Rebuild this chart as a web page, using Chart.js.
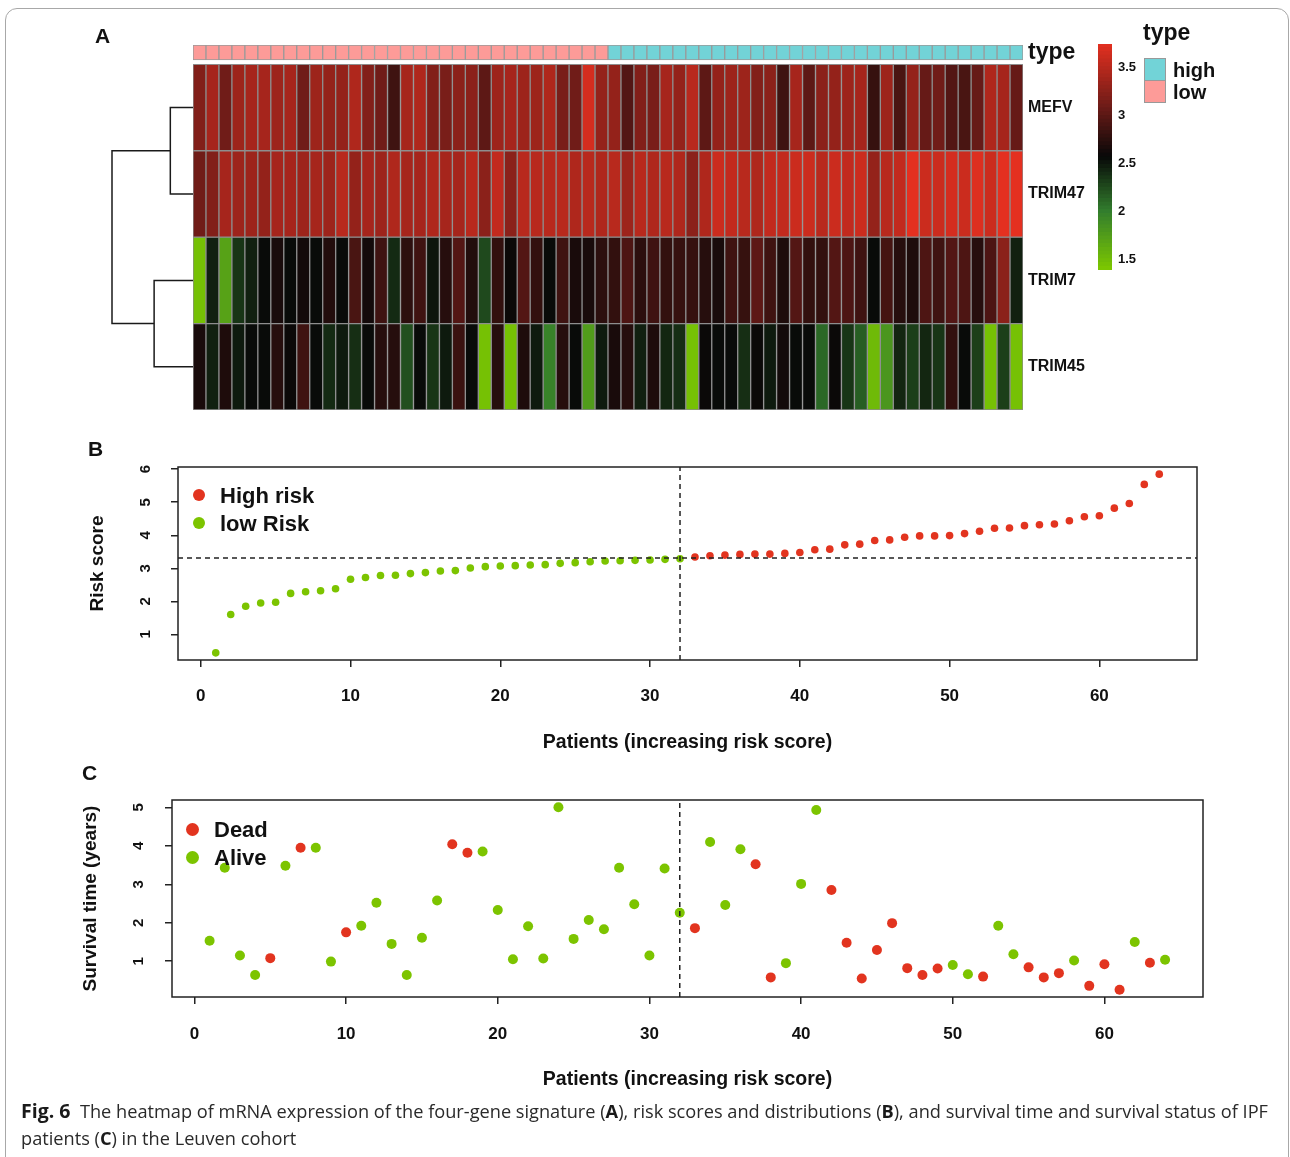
<!DOCTYPE html>
<html>
<head>
<meta charset="utf-8">
<script src="https://cdn.jsdelivr.net/npm/chart.js@4.4.1/dist/chart.umd.min.js"></script>
<style>
  body { margin: 0; width: 1290px; height: 1157px; overflow: hidden; background: #fff;
         font-family: "Liberation Sans", Arial, Helvetica, sans-serif; position: relative; }
  .frame { position: absolute; left: 5px; top: 8px; width: 1282px; height: 1190px;
           border: 1px solid #a8a8a8; border-radius: 12px; }
  canvas { position: absolute; left: 0; }
  .lbl { position: absolute; font-weight: bold; color: #111; line-height: 1; white-space: nowrap; }
  .dot { position: absolute; border-radius: 50%; }
  .box { position: absolute; width: 20px; height: 21px; border: 1px solid #999; }
  .caption { position: absolute; left: 21px; top: 1097px; width: 1262px; font-family: "Open Sans", sans-serif;
             font-size: 18.2px; line-height: 27px; color: #2a2a2a; }
  .caption b { font-weight: bold; color: #1a1a1a; }
  .caption .fig { font-size: 19.5px; }
</style>
</head>
<body>
<div class="frame"></div>

<canvas id="heatmap" width="1290" height="440" style="top:0"></canvas>
<canvas id="dendro" width="1290" height="440" style="top:0"></canvas>
<canvas id="colorKey" width="1290" height="440" style="top:0"></canvas>
<canvas id="riskChart" width="1290" height="340" style="top:430px"></canvas>
<canvas id="survChart" width="1290" height="340" style="top:760px"></canvas>

<div class="lbl" style="left:95px;top:25px;font-size:21px">A</div>
<div class="lbl" style="left:88px;top:438px;font-size:21px">B</div>
<div class="lbl" style="left:82px;top:762px;font-size:21px">C</div>

<!-- type legend -->
<div class="lbl" style="left:1143px;top:21px;font-size:23px">type</div>
<div class="box" style="left:1144px;top:58px;background:#72d3d7"></div>
<div class="box" style="left:1144px;top:80px;background:#fd9b98"></div>
<div class="lbl" style="left:1173px;top:60px;font-size:20px">high</div>
<div class="lbl" style="left:1173px;top:82px;font-size:20px">low</div>

<!-- legend B -->
<div class="dot" style="left:193px;top:489px;width:12px;height:12px;background:#e2341f"></div>
<div class="dot" style="left:193px;top:517px;width:12px;height:12px;background:#7cc400"></div>
<div class="lbl" style="left:220px;top:485px;font-size:22px">High risk</div>
<div class="lbl" style="left:220px;top:513px;font-size:22px">low Risk</div>

<!-- legend C -->
<div class="dot" style="left:186px;top:823px;width:13px;height:13px;background:#e2341f"></div>
<div class="dot" style="left:186px;top:851px;width:13px;height:13px;background:#7cc400"></div>
<div class="lbl" style="left:214px;top:819px;font-size:22px">Dead</div>
<div class="lbl" style="left:214px;top:847px;font-size:22px">Alive</div>

<div class="caption"><b class="fig">Fig. 6</b>&nbsp; The heatmap of mRNA expression of the four-gene signature (<b>A</b>), risk scores and distributions (<b>B</b>), and survival time and survival status of IPF<br>patients (<b>C</b>) in the Leuven cohort</div>

<script>
// ---- data ----
const genes = ["MEFV", "TRIM47", "TRIM7", "TRIM45"];

const mefv = [3.2, 3.4, 3.1, 3.35, 3.4, 3.4, 3.35, 3.4, 3.1, 3.35,
  3.3, 3.3, 3.45, 3.2, 3.1, 2.85, 3.4, 3.45, 3.2, 3.15,
  3.25, 3.25, 3.0, 3.35, 3.4, 3.35, 3.35, 3.45, 3.15, 3.1,
  3.65, 3.3,
  3.3, 2.95, 3.2, 3.15, 3.4, 3.3, 3.5, 3.0, 3.3, 3.35,
  3.35, 3.2, 3.25, 2.85, 3.4, 3.0, 3.25, 3.3, 3.35, 3.4,
  2.8, 3.35, 2.9, 3.3, 3.05, 3.1, 2.95, 2.9, 3.05, 3.45,
  3.4, 3.05];

const trim47 = [3.1, 3.2, 3.4, 3.35, 3.35, 3.3, 3.4, 3.4, 3.35, 3.4,
  3.35, 3.5, 3.3, 3.4, 3.35, 3.45, 3.4, 3.4, 3.45, 3.4,
  3.4, 3.5, 3.25, 3.55, 3.25, 3.5, 3.5, 3.5, 3.5, 3.45,
  3.5, 3.45,
  3.5, 3.35, 3.5, 3.45, 3.5, 3.45, 3.25, 3.45, 3.6, 3.55,
  3.5, 3.45, 3.55, 3.55, 3.6, 3.6, 3.5, 3.6, 3.55, 3.6,
  3.3, 3.5, 3.55, 3.75, 3.6, 3.6, 3.65, 3.6, 3.7, 3.6,
  3.75, 3.8];

const trim7 = [1.45, 2.45, 1.7, 2.35, 2.45, 2.55, 2.65, 2.55, 2.62, 2.55,
  2.7, 2.55, 2.9, 2.62, 2.85, 2.4, 2.75, 2.85, 2.5, 2.72,
  2.95, 2.7, 2.25, 2.78, 2.58, 2.95, 2.78, 2.55, 2.85, 2.65,
  2.65, 2.75,
  2.78, 2.92, 2.75, 2.85, 2.78, 2.8, 2.8, 2.72, 2.65, 2.85,
  2.8, 3.0, 2.85, 2.68, 2.95, 2.78, 2.78, 2.95, 2.92, 2.85,
  2.55, 2.88, 2.72, 2.68, 2.92, 2.85, 2.95, 2.92, 2.72, 2.92,
  3.25, 2.45];

const trim45 = [2.65, 2.45, 2.68, 2.48, 2.55, 2.55, 2.72, 2.58, 2.85, 2.55,
  2.4, 2.48, 2.38, 2.55, 2.72, 2.72, 2.22, 2.55, 2.35, 2.48,
  2.82, 2.55, 1.45, 2.72, 1.45, 2.68, 2.48, 1.95, 2.72, 2.55,
  1.75, 2.48,
  2.65, 2.72, 2.45, 2.68, 2.42, 2.38, 1.45, 2.58, 2.55, 2.55,
  2.38, 2.58, 2.48, 2.62, 2.55, 2.55, 2.1, 2.58, 2.35, 2.15,
  1.5, 1.8, 2.42, 2.3, 2.42, 2.35, 2.78, 2.55, 2.3, 1.45,
  2.3, 1.45];

const riskScore = [0.44, 1.60, 1.85, 1.95, 1.97, 2.24, 2.29, 2.32, 2.38, 2.67,
  2.72, 2.78, 2.79, 2.84, 2.87, 2.92, 2.93, 3.01, 3.05, 3.07,
  3.08, 3.10, 3.11, 3.15, 3.17, 3.20, 3.22, 3.23, 3.24, 3.25,
  3.27, 3.29,
  3.34, 3.38, 3.40, 3.42, 3.43, 3.43, 3.45, 3.48, 3.56, 3.58,
  3.71, 3.73, 3.84, 3.86, 3.94, 3.98, 3.98, 3.99, 4.05, 4.12,
  4.21, 4.22, 4.29, 4.32, 4.34, 4.44, 4.56, 4.59, 4.82, 4.96,
  5.54, 5.85];

const survTime = [1.53, 3.43, 1.15, 0.64, 1.08, 3.48, 3.95, 3.95, 0.99, 1.75,
  1.92, 2.52, 1.45, 0.64, 1.61, 2.58, 4.04, 3.82, 3.85, 2.33,
  1.05, 1.91, 1.07, 5.0, 1.58, 2.07, 1.83, 3.43, 2.48, 1.15,
  3.41, 2.26,
  1.86, 4.10, 2.46, 3.91, 3.52, 0.58, 0.95, 3.01, 4.93, 2.85,
  1.48, 0.55, 1.29, 1.99, 0.82, 0.64, 0.81, 0.90, 0.66, 0.60,
  1.92, 1.18, 0.84, 0.58, 0.69, 1.02, 0.36, 0.92, 0.26, 1.50,
  0.96, 1.04];

// 1 = dead, 0 = alive
const survStatus = [0, 0, 0, 0, 1, 0, 1, 0, 0, 1,
  0, 0, 0, 0, 0, 0, 1, 1, 0, 0,
  0, 0, 0, 0, 0, 0, 0, 0, 0, 0,
  0, 0, 1, 0, 0, 0, 1, 1, 0, 0,
  0, 1, 1, 1, 1, 1, 1, 1, 1, 0,
  0, 1, 0, 0, 1, 1, 1, 0, 1, 1,
  1, 0, 1, 0];

// dendrogram (R hclust style merge table)
const dendroMerge = [[-1, -2], [-3, -4], [1, 2]];
const dendroHeight = [0.28, 0.48, 1.0];

const patientTicks = [0, 10, 20, 30, 40, 50, 60];
const riskTicks = [1, 2, 3, 4, 5, 6];
const survTicks = [1, 2, 3, 4, 5];
const keyTicks = [1.5, 2, 2.5, 3, 3.5];

// ---- derived ----
const sorted = [...riskScore].sort((a, b) => a - b);
const riskMedian = (sorted[31] + sorted[32]) / 2;
const riskType = riskScore.map(v => (v > riskMedian ? "high" : "low"));
const nLow = riskType.filter(t => t === "low").length;
const patients = riskScore.map((v, i) => i + 1);

const RED = "#e2341f";
const GREEN = "#7cc400";
const FONT = "'Liberation Sans', Arial, Helvetica, sans-serif";

// expression colour ramp green - black - red
const keyMin = 1.39, keyMax = 3.74;
const rampStops = [
  [1.39, [125, 200, 0]],
  [2.0, [50, 125, 45]],
  [2.565, [8, 8, 8]],
  [3.1, [112, 28, 24]],
  [3.74, [228, 48, 32]]
];
function exprColor(v) {
  if (v <= rampStops[0][0]) return "rgb(" + rampStops[0][1].join(",") + ")";
  for (let i = 1; i < rampStops.length; i++) {
    if (v <= rampStops[i][0]) {
      const [v0, c0] = rampStops[i - 1], [v1, c1] = rampStops[i];
      const t = (v - v0) / (v1 - v0);
      return "rgb(" + c0.map((c, k) => Math.round(c + (c1[k] - c) * t)).join(",") + ")";
    }
  }
  return "rgb(" + rampStops[rampStops.length - 1][1].join(",") + ")";
}

Chart.defaults.font.family = FONT;
Chart.defaults.color = "#111";
Chart.defaults.animation = false;

// ---- heatmap ----
const geneRows = [mefv, trim47, trim7, trim45];
const heatTop = 4.224;
const heatSets = geneRows.map((vals, g) => ({
  label: genes[g],
  data: vals.map(() => [3 - g, 4 - g]),
  backgroundColor: vals.map(exprColor),
  borderColor: "#8e8e8e",
  borderWidth: 1,
  borderSkipped: false,
  barPercentage: 1,
  categoryPercentage: 1,
  grouped: false
}));
heatSets.push({
  label: "type",
  data: riskType.map(() => [4.05, heatTop]),
  backgroundColor: riskType.map(t => (t === "high" ? "#72d3d7" : "#fd9b98")),
  borderColor: "#9a9a9a",
  borderWidth: 1,
  borderSkipped: false,
  barPercentage: 1,
  categoryPercentage: 1,
  grouped: false
});

const rowLabels = [...genes, "type"];
new Chart(document.getElementById("heatmap"), {
  type: "bar",
  data: { labels: patients, datasets: heatSets },
  options: {
    responsive: false,
    layout: { padding: { left: 193, right: 187, top: 45, bottom: 30 } },
    plugins: { legend: { display: false }, tooltip: { enabled: false } },
    scales: {
      x: { display: false },
      y: {
        position: "right",
        min: 0,
        max: heatTop,
        grid: { display: false, drawTicks: false },
        border: { display: false },
        afterBuildTicks: s => { s.ticks = [3.5, 2.5, 1.5, 0.5, 4.137].map(v => ({ value: v })); },
        afterFit: s => { s.width = 80; },
        ticks: {
          padding: 5,
          color: "#111",
          font: c => (c.index === 4 ? { size: 23, weight: "bold" } : { size: 16, weight: "bold" }),
          callback: (v, i) => rowLabels[i]
        }
      }
    }
  }
});

// ---- dendrogram ----
const leafY = k => 4.5 - k;
const nodes = [];
function nodePos(id) {
  return id < 0 ? { y: leafY(-id), h: 0 } : nodes[id - 1];
}
const dendroSets = dendroMerge.map((m, j) => {
  const a = nodePos(m[0]), b = nodePos(m[1]);
  const h = dendroHeight[j];
  nodes.push({ y: (a.y + b.y) / 2, h: h });
  return {
    data: [{ x: a.h, y: a.y }, { x: h, y: a.y }, { x: h, y: b.y }, { x: b.h, y: b.y }],
    showLine: true,
    pointRadius: 0,
    borderColor: "#1a1a1a",
    borderWidth: 1.5,
    clip: false
  };
});
new Chart(document.getElementById("dendro"), {
  type: "scatter",
  data: { datasets: dendroSets },
  options: {
    responsive: false,
    layout: { padding: { left: 112, right: 1097, top: 45, bottom: 30 } },
    plugins: { legend: { display: false }, tooltip: { enabled: false } },
    scales: {
      x: { display: false, reverse: true, min: 0, max: 1 },
      y: { display: false, min: 0, max: heatTop }
    }
  }
});

// ---- colour key ----
const keyStep = (keyMax - keyMin) / 60;
const keySets = [];
for (let i = 0; i < 60; i++) {
  const lo = keyMin + i * keyStep;
  keySets.push({
    data: [[lo, lo + keyStep * 1.05]],
    backgroundColor: exprColor(lo + keyStep / 2),
    borderWidth: 0,
    barPercentage: 1,
    categoryPercentage: 1,
    grouped: false
  });
}
new Chart(document.getElementById("colorKey"), {
  type: "bar",
  data: { labels: ["key"], datasets: keySets },
  options: {
    responsive: false,
    layout: { padding: { left: 1098, right: 138, top: 44, bottom: 170 } },
    plugins: { legend: { display: false }, tooltip: { enabled: false } },
    scales: {
      x: { display: false },
      y: {
        position: "right",
        min: keyMin,
        max: keyMax,
        grid: { display: false, drawTicks: false },
        border: { display: false },
        afterBuildTicks: s => { s.ticks = keyTicks.map(v => ({ value: v })); },
        afterFit: s => { s.width = 40; },
        ticks: { padding: 6, font: { size: 13, weight: "bold" }, callback: v => String(v) }
      }
    }
  }
});

// ---- shared pieces for scatter panels ----
const boxPlugin = {
  id: "box",
  afterDraw(chart) {
    const a = chart.chartArea, c = chart.ctx;
    c.save();
    c.strokeStyle = "#222";
    c.lineWidth = 1.5;
    c.strokeRect(a.left, a.top, a.right - a.left, a.bottom - a.top);
    c.restore();
  }
};

function xAxis(min, max, tickPad, titlePad, height) {
  return {
    type: "linear",
    min: min,
    max: max,
    afterBuildTicks: s => { s.ticks = patientTicks.map(v => ({ value: v })); },
    afterFit: s => { s.height = height; },
    grid: { drawOnChartArea: false, drawTicks: true, tickLength: 7, color: "#222", lineWidth: 1.5 },
    border: { display: false },
    ticks: { padding: tickPad, font: { size: 17, weight: "bold" }, color: "#111" },
    title: {
      display: true,
      text: "Patients (increasing risk score)",
      font: { size: 19.5, weight: "bold" },
      color: "#111",
      padding: { top: 0, bottom: titlePad }
    }
  };
}

function yAxis(min, max, ticks, title, tickPad, width) {
  return {
    type: "linear",
    min: min,
    max: max,
    afterBuildTicks: s => { s.ticks = ticks.map(v => ({ value: v })); },
    afterFit: s => { s.width = width; },
    grid: { drawOnChartArea: false, drawTicks: true, tickLength: 7, color: "#222", lineWidth: 1.5 },
    border: { display: false },
    ticks: { padding: tickPad, minRotation: 90, maxRotation: 90, crossAlign: "center",
             font: { size: 15, weight: "bold" }, color: "#111" },
    title: { display: true, text: title, font: { size: 19, weight: "bold" }, color: "#111", padding: 0 }
  };
}

function dashed(points) {
  return { data: points, showLine: true, pointRadius: 0, borderColor: "#222",
           borderWidth: 1.5, borderDash: [5, 4], clip: false };
}

// ---- B: risk score ----
const bx = [-1.52, 66.52], by = [0.224, 6.066];
new Chart(document.getElementById("riskChart"), {
  type: "scatter",
  data: {
    datasets: [
      dashed([{ x: nLow, y: by[0] }, { x: nLow, y: by[1] }]),
      dashed([{ x: bx[0], y: riskMedian }, { x: bx[1], y: riskMedian }]),
      { label: "High risk", data: patients.filter((p, i) => riskType[i] === "high").map(p => ({ x: p, y: riskScore[p - 1] })),
        backgroundColor: RED, borderWidth: 0, pointRadius: 3.8 },
      { label: "low Risk", data: patients.filter((p, i) => riskType[i] === "low").map(p => ({ x: p, y: riskScore[p - 1] })),
        backgroundColor: GREEN, borderWidth: 0, pointRadius: 3.8 }
    ]
  },
  options: {
    responsive: false,
    layout: { padding: { left: 86, right: 93, top: 37, bottom: 0 } },
    plugins: { legend: { display: false }, tooltip: { enabled: false } },
    scales: {
      x: xAxis(bx[0], bx[1], 19, 16, 110),
      y: yAxis(by[0], by[1], riskTicks, "Risk score", 21, 92)
    }
  },
  plugins: [boxPlugin]
});

// ---- C: survival ----
const cx = [-1.48, 66.5], cy = [0.07, 5.19];
new Chart(document.getElementById("survChart"), {
  type: "scatter",
  data: {
    datasets: [
      dashed([{ x: nLow, y: cy[0] }, { x: nLow, y: cy[1] }]),
      { label: "Dead", data: patients.filter((p, i) => survStatus[i] === 1).map(p => ({ x: p, y: survTime[p - 1] })),
        backgroundColor: RED, borderWidth: 0, pointRadius: 5 },
      { label: "Alive", data: patients.filter((p, i) => survStatus[i] === 0).map(p => ({ x: p, y: survTime[p - 1] })),
        backgroundColor: GREEN, borderWidth: 0, pointRadius: 5 }
    ]
  },
  options: {
    responsive: false,
    layout: { padding: { left: 79, right: 87, top: 40, bottom: 0 } },
    plugins: { legend: { display: false }, tooltip: { enabled: false } },
    scales: {
      x: xAxis(cx[0], cx[1], 20, 9, 103),
      y: yAxis(cy[0], cy[1], survTicks, "Survival time (years)", 22, 93)
    }
  },
  plugins: [boxPlugin]
});
</script>
</body>
</html>
